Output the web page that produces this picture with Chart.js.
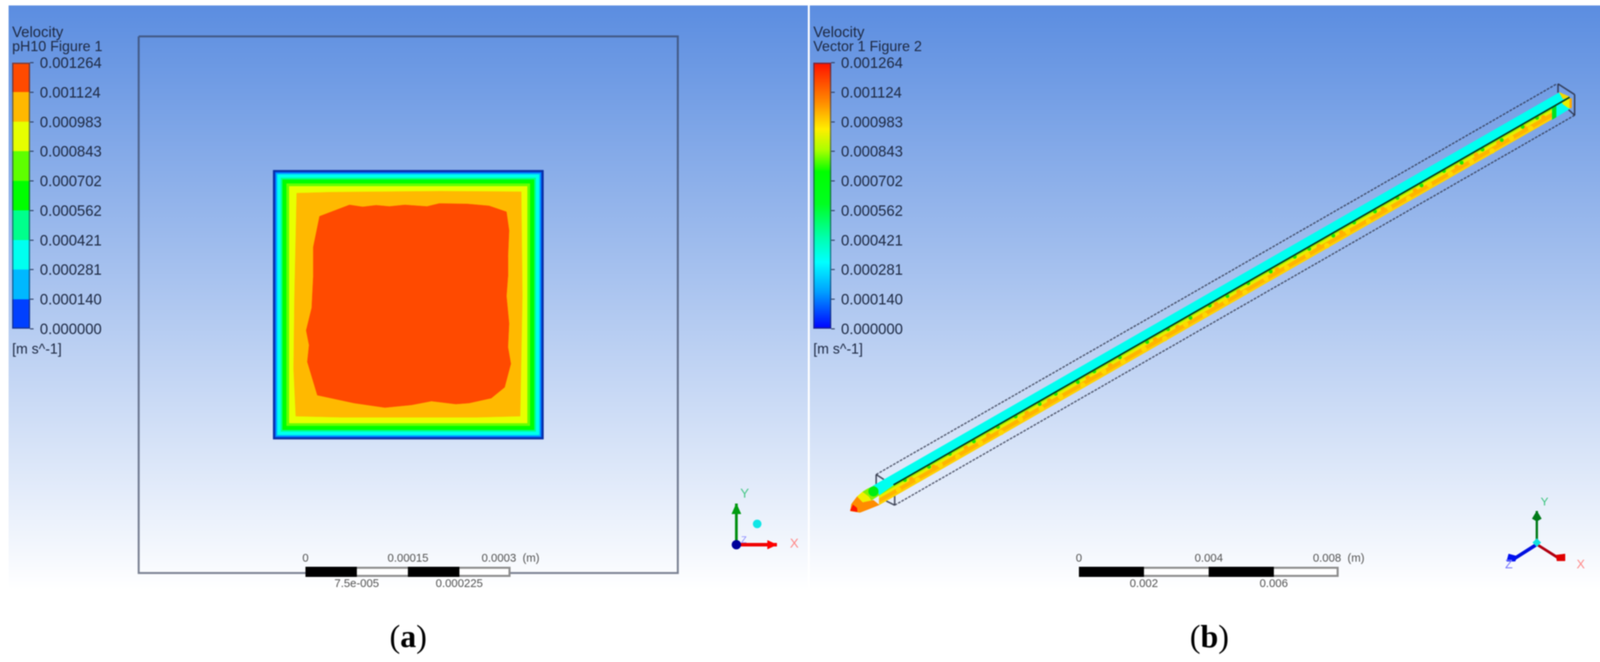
<!DOCTYPE html>
<html>
<head>
<meta charset="utf-8">
<script src="https://cdn.jsdelivr.net/npm/chart.js@4"></script>
<style>
html,body{margin:0;padding:0;background:#fff;overflow:hidden}
#stage{position:absolute;left:0;top:0;width:4135px;height:1696px;background:#fff;filter:blur(1.4px)}
.panel{position:absolute;top:14px;height:1546px;background:linear-gradient(to bottom,#5b8de0 0%,#ffffff 97%)}
canvas{position:absolute;display:block}
.t{position:absolute;white-space:pre;font-family:"Liberation Sans",Arial,sans-serif;line-height:1;transform:translateY(-50%)}
.cap{position:absolute;font-family:"Liberation Serif","Times New Roman",serif;font-size:82px;line-height:1;color:#000;transform:translate(-50%,-50%)}
</style>
</head>
<body>
<div id="stage"></div>
<script>
// ---------- colour legend ----------
const legendValues = [0.000000,0.000140,0.000281,0.000421,0.000562,0.000702,0.000843,0.000983,0.001124,0.001264];
const bandColors = ['#0040ff','#00b8ff','#00fff0','#00ff8c','#00ff00','#5eff00','#e6ff00','#ffb800','#ff4a00'];
const smoothStops = [[0,'#ff1000'],[0.15,'#ff8c00'],[0.25,'#ffee00'],[0.33,'#a8ff00'],[0.41,'#00ff00'],[0.53,'#00ff20'],[0.66,'#00ffb0'],[0.75,'#00ffff'],[0.86,'#00a0ff'],[1,'#0000ff']];
const legendTitleA = 'pH10 Figure 1';
const legendTitleB = 'Vector 1 Figure 2';
// ---------- panel (a): section contours, micrometres from the centre of the channel ----------
const sectionHalfWidths = [200,197,195.5,193.5,188.5,186,180,176];
const sectionColors = ['#0a2fa5','#0060ff','#00b0ff','#00ffee','#00ff90','#00ff00','#66ff00','#e8ff00'];
const frameHalfWidth = 399;
const orangeContour = [[-165,165.8],[-113.2,167.3],[47.5,168.7],[167.2,167.9],[168.8,12.8],[165.6,-165.7],[103.2,-167.4],[-100,-167.4],[-166.4,-165.7],[-169.6,-95.2],[-168.3,12.8]];
const redContour = [[-131.2,131.4],[-87,148.3],[-67.3,145.4],[-47.6,147.8],[-28,146],[-5,148.3],[27.8,146],[45.8,150.4],[86.9,149.8],[119.7,146.9],[145.3,138.1],[149.2,110.4],[147.5,71.1],[147.5,41.9],[145.3,12.8],[149.2,-28],[147.5,-63],[151.8,-87.8],[142.6,-122.8],[122.9,-138.9],[90.1,-146.2],[70.4,-147.7],[34.4,-143.3],[4.9,-149],[-34.5,-152.9],[-80.4,-146.2],[-134.5,-134.5],[-149.3,-84.9],[-146.7,-60.1],[-151,-38.2],[-142.8,-4.7],[-140.5,41.9],[-140.5,85.6]];
const triadA = {origin:[485.7,-356.9],yTip:[485.7,-295.7],xTip:[545.7,-356.9],dot:[516.5,-326],
  yHead:[[485.7,-295.7],[492.5,-311],[478.9,-311]],xHead:[[545.7,-356.9],[532,-350.5],[532,-363.3]]};
// ---------- panel (b): projected rod, millimetres in the view plane ----------
const rodCyan = [[0.697,0.721],[22.09,13.04],[22.416,12.897],[1.346,0.757],[0.901,0.433]];
const rodCyanEnd = [[21.875,12.584],[22.416,12.897],[22.416,12.536],[21.875,12.2]];
const rodGreenStripe = [[21.875,12.584],[21.995,12.656],[21.995,12.272],[21.875,12.2]];
const rodYellowEnd = [[22.175,12.74],[22.416,12.861],[22.476,12.572],[22.38,12.56],[22.212,12.68]];
const rodOrangeEnd = [[22.416,12.861],[22.476,12.86],[22.476,12.572],[22.416,12.55]];
const rodYellowTop = [[22.091,13.053],[22.416,12.909],[22.212,12.837]];
const darkEdge = [[1.346,0.757],[22.416,12.897]];
const faceEdge = [[0.9,0.5],[21.875,12.584]];
const faceStrips = [[0,-0.08,'#90f000'],[-0.08,-0.17,'#e8ee00'],[-0.17,-0.31,'#ffb400'],[-0.31,-0.37,'#ffd000']];
const noseOrange = [[0,-0.06],[0.036,0.156],[0.216,0.397],[0.385,0.216],[0.721,0.276],[0.9,0.13],[0.577,0],[0.3,-0.108]];
const noseYellow = [[0.216,0.397],[0.385,0.541],[0.577,0.397],[0.661,0.276],[0.385,0.216]];
const noseLime = [[0.385,0.541],[0.541,0.637],[0.745,0.721],[0.901,0.433],[0.661,0.276],[0.577,0.397]];
const noseRed = [[0,-0.048],[0.084,0.132],[0.204,0.036],[0.216,-0.084]];
const noseGreen = [[0.721,0.553]];
const greenSpecks = [[1.7,-.05],[2.45,-.07],[3.1,-.04],[3.85,-.08],[4.6,-.06],[5.15,-.05],[5.9,-.09],[6.4,-.06],[7.09,-.09],[7.6,-.05],[8.4,-.07],[9.25,-.08],[9.9,-.05],[10.6,-.1],[11.2,-.06],[11.75,-.08],[12.4,-.05],[13.1,-.09],[13.85,-.06],[14.3,-.07],[15.05,-.09],[15.7,-.05],[16.35,-.08],[17.05,-.06],[17.8,-.1],[18.5,-.05],[19.05,-.11],[19.7,-.07],[20.3,-.12],[20.95,-.08],[21.4,-.06]];
const yellowSpecks = [[1.5,-.24],[2.1,-.28],[2.8,-.22],[3.35,-.27],[4.05,-.24],[4.7,-.29],[5.3,-.22],[5.95,-.26],[6.55,-.23],[7.25,-.28],[7.9,-.22],[8.5,-.26],[9.15,-.24],[9.8,-.29],[10.45,-.22],[11.05,-.27],[11.7,-.23],[12.3,-.28],[12.95,-.22],[13.6,-.26],[14.25,-.24],[14.85,-.29],[15.5,-.22],[16.15,-.27],[16.8,-.23],[17.4,-.28],[18.05,-.22],[18.7,-.26],[19.35,-.24],[20,-.29],[20.6,-.23],[21.2,-.27]];
const orangeSpecks = [[1.9,-.14],[2.6,-.16],[3.6,-.13],[4.3,-.15],[5.5,-.14],[6.2,-.16],[7.4,-.13],[8.1,-.15],[9.5,-.14],[10.2,-.16],[11.4,-.13],[12.1,-.15],[13.3,-.14],[14.6,-.16],[15.3,-.13],[16.6,-.15],[17.6,-.14],[18.9,-.16],[19.5,-.12],[20.2,-.15],[21,-.13],[21.6,-.16]];
const frameLongB = [[[0.805,1.082],[22.019,13.317]],[[1.382,0.12],[22.572,12.332]]];
const frameShortB = [[[0.805,1.082],[0.805,0.757]],[[1.382,0.757],[1.382,0.12]],[[0.805,1.082],[1.046,0.925]],[[1.118,0.252],[1.382,0.12]],[[22.055,13.317],[22.055,13.04]],[[22.055,13.317],[22.572,12.981]],[[22.572,12.981],[22.572,12.332]],[[22.38,12.512],[22.572,12.332]]];
const triadB = {origin:[21.394,-1.106],yTip:[21.394,-0.06],zTip:[20.62,-1.6],xTip:[22.055,-1.526],
  yHead:[[21.394,-0.06],[21.538,-0.30],[21.394,-0.385],[21.25,-0.30]],
  zHead:[[20.457,-1.635],[20.517,-1.406],[20.781,-1.478],[20.72,-1.635]],
  xHead:[[21.995,-1.442],[22.272,-1.406],[22.272,-1.623],[22.02,-1.623]]};
// ---------- scale bars ----------
const scaleEdgesA = [0,0.000075,0.00015,0.000225,0.0003];
const scaleTopA = [0,0.00015,0.0003], scaleTopLabelsA = ['0','0.00015','0.0003  (m)'];
const scaleBotA = [0.000075,0.000225], scaleBotLabelsA = ['7.5e-005','0.000225'];
const scaleEdgesB = [0,0.002,0.004,0.006,0.008];
const scaleTopB = [0,0.004,0.008], scaleTopLabelsB = ['0','0.004','0.008  (m)'];
const scaleBotB = [0.002,0.006], scaleBotLabelsB = ['0.002','0.006'];
const captions = ['a','b'];

// ---------- page helpers ----------
const stage = document.getElementById('stage');
function div(cls,css,txt){const d=document.createElement('div');d.className=cls;d.style.cssText=css;if(txt!==undefined)d.textContent=txt;stage.appendChild(d);return d;}
function text(x,y,s,size,color,extra){div('t',`left:${x}px;top:${y}px;font-size:${size}px;color:${color};${extra||''}`,s);}
function canvas(l,t,w,h){const c=document.createElement('canvas');c.width=w;c.height=h;c.style.cssText=`left:${l}px;top:${t}px;width:${w}px;height:${h}px`;stage.appendChild(c);return c;}
const base={responsive:false,maintainAspectRatio:false,animation:false,devicePixelRatio:1,events:[],plugins:{legend:{display:false},tooltip:{enabled:false},title:{display:false}}};
const pts=a=>a.map(p=>({x:p[0],y:p[1]}));
function poly(a,color){return {data:pts(a.concat([a[0]])),showLine:true,fill:'shape',backgroundColor:color,borderColor:color,borderWidth:1,pointRadius:0,tension:0};}
function line(a,color,width,dash){return {data:pts(a),showLine:true,fill:false,borderColor:color,borderWidth:width,borderDash:dash||[],pointRadius:0,tension:0};}
function dots(a,color,r,style){return {data:pts(a),showLine:false,backgroundColor:color,borderColor:color,borderWidth:0,pointRadius:r,pointStyle:style||'circle'};}
function rect(h){return [[-h,h],[h,h],[h,-h],[-h,-h]];}
function field(l,t,w,h,xr,yr,sets){
  sets.forEach((s,i)=>{s.order=sets.length-i;});
  new Chart(canvas(l,t,w,h),{type:'scatter',data:{datasets:sets},options:{...base,layout:{padding:0},
    scales:{x:{type:'linear',display:false,min:xr[0],max:xr[1]},y:{type:'linear',display:false,min:yr[0],max:yr[1]}}}});
}
function colorbar(left,sets){
  new Chart(canvas(left,120,300,760),{type:'bar',data:{labels:[''],datasets:sets},options:{...base,
    layout:{padding:{left:9,top:40.5,bottom:37.5,right:0}},
    scales:{x:{type:'category',display:false},
      y:{type:'linear',position:'right',min:legendValues[0],max:legendValues[legendValues.length-1],
        afterBuildTicks:s=>{s.ticks=legendValues.map(v=>({value:v}));},
        afterFit:s=>{s.width=245;s.paddingTop=0;s.paddingBottom=0;},
        border:{display:false},
        grid:{drawOnChartArea:false,drawTicks:true,tickLength:9,tickWidth:2.5,tickColor:'#2a3a5c'},
        ticks:{autoSkip:false,padding:16,labelOffset:3,font:{family:'"Liberation Sans"',size:38},color:'#1e2a44',callback:v=>v.toFixed(6)}}}}});
}
function legendBand(lo,hi,color){return {data:[[lo,hi]],backgroundColor:color,grouped:false,barPercentage:1,categoryPercentage:1,borderWidth:0,order:2};}
function legendFrame(){return {data:[[legendValues[0],legendValues[legendValues.length-1]]],backgroundColor:'rgba(0,0,0,0)',borderColor:'rgba(35,50,95,0.65)',borderWidth:3,borderSkipped:false,grouped:false,barPercentage:1,categoryPercentage:1,order:1};}
function scaleBar(left,width,edges,top,topL,bot,botL){
  const pad=70, sets=[];
  for(let i=0;i<edges.length-1;i++) if(i%2) sets.push({data:[[edges[i],edges[i+1]]],backgroundColor:'#fff',grouped:false,barPercentage:1,categoryPercentage:1,order:3});
  sets.push({data:[[edges[0],edges[edges.length-1]]],backgroundColor:'rgba(0,0,0,0)',borderColor:'#8e8e8e',borderWidth:5,borderSkipped:false,grouped:false,barPercentage:1,categoryPercentage:1,order:2});
  for(let i=0;i<edges.length-1;i++) if(!(i%2)) sets.push({data:[[edges[i],edges[i+1]]],backgroundColor:'#000',grouped:false,barPercentage:1,categoryPercentage:1,order:1});
  const font={family:'"Liberation Sans"',size:29};
  const common=(vals,labs,pd)=>({type:'linear',min:edges[0],max:edges[edges.length-1],
    afterBuildTicks:s=>{s.ticks=vals.map(v=>({value:v}));},
    afterFit:s=>{s.height=40;s.paddingLeft=0;s.paddingRight=0;},
    border:{display:false},grid:{display:false,drawTicks:false},
    ticks:{autoSkip:false,maxRotation:0,minRotation:0,padding:pd,font,color:'#555',callback:(v,i)=>labs[i]}});
  new Chart(canvas(left-pad,1412,width+2*pad+60,106),{type:'bar',data:{labels:[''],datasets:sets},options:{...base,indexAxis:'y',
    layout:{padding:{left:pad,right:pad+60,top:0,bottom:0}},
    scales:{y:{type:'category',display:false},
      x:{...common(bot,botL,1),position:'bottom'},
      xTop:{...common(top,topL,4),position:'top',axis:'x'}}}});
}

// ---------- backgrounds ----------
div('panel','left:22px;width:2046px');
div('panel','left:2073px;width:2047px');

// ---------- panel (a) field, 1.75 px per micrometre ----------
const setsA=[line(rect(frameHalfWidth).concat([rect(frameHalfWidth)[0]]),'rgba(45,55,80,0.62)',5)];
sectionHalfWidths.forEach((h,i)=>setsA.push(poly(rect(h),sectionColors[i])));
setsA.push(poly(orangeContour,'#ffb900'),poly(redContour,'#ff4a00'));
setsA.push(line([triadA.origin,triadA.yTip],'#008f10',7),poly(triadA.yHead,'#009c10'));
setsA.push(line([triadA.origin,triadA.xTip],'#f00000',9),poly(triadA.xHead,'#ff0000'));
setsA.push(dots([triadA.origin],'#00009a',12),dots([triadA.dot],'#10e6e6',11));
field(22,14,2046,1546,[-584.6,584.5],[-445.4,438],setsA);

// ---------- panel (b) rod, 83.2 px per millimetre ----------
const faceAt=(s,o)=>{const[a,b]=faceEdge;return [s,a[1]+(s-a[0])*(b[1]-a[1])/(b[0]-a[0])+o];};
const setsB=[];
frameShortB.forEach(f=>setsB.push(line(f,'rgba(40,45,65,0.8)',4)));
frameLongB.forEach(f=>setsB.push(line(f,'rgba(40,45,65,0.72)',3.5,[7,3])));
faceStrips.forEach(s=>{
  const a=faceEdge[0][0],b=faceEdge[1][0];
  setsB.push(poly([faceAt(a,s[0]),faceAt(b,s[0]),faceAt(b,s[1]),faceAt(a,s[1])],s[2]));
});
setsB.push(dots(yellowSpecks.map(p=>faceAt(p[0],p[1])),'#ffd800',7));
setsB.push(dots(orangeSpecks.map(p=>faceAt(p[0],p[1])),'#ffb000',6));
setsB.push(dots(greenSpecks.map(p=>faceAt(p[0],p[1])),'#20e800',5));
setsB.push(poly(rodCyan,'#00fff0'),poly(rodCyanEnd,'#00fff0'),poly(rodGreenStripe,'#00e020'));
setsB.push(poly(rodYellowEnd,'#e8f000'),poly(rodOrangeEnd,'#ffaa00'),poly(rodYellowTop,'#f2d800'));
setsB.push(poly(noseOrange,'#ff8c00'),poly(noseYellow,'#f0f000'),poly(noseLime,'#88f000'),poly(noseRed,'#ff1500'));
setsB.push(dots(noseGreen,'#00ee10',13));
setsB.push(line(darkEdge,'#063d20',4));
setsB.push(line([triadB.origin,triadB.yTip],'#007a18',6),poly(triadB.yHead,'#007a18'));
setsB.push(line([triadB.origin,triadB.zTip],'#0010e0',9),poly(triadB.zHead,'#0010f0'));
setsB.push(line([triadB.origin,triadB.xTip],'#b00010',7),poly(triadB.xHead,'#e00000'));
setsB.push(dots([[21.394,-1.05]],'#10e0e0',11,'rectRot'));
field(2073,14,2047,1546,[-1.106,23.497],[-2.969,15.613],setsB);

// ---------- colour legends ----------
const setsLegendA=bandColors.map((c,i)=>legendBand(legendValues[i],legendValues[i+1],c));
setsLegendA.push(legendFrame());
colorbar(22,setsLegendA);
const gradientBand={...legendBand(legendValues[0],legendValues[legendValues.length-1],'#000'),
  backgroundColor:ctx=>{const a=ctx.chart.chartArea;if(!a)return '#00ff00';
    const g=ctx.chart.ctx.createLinearGradient(0,a.top,0,a.bottom);smoothStops.forEach(s=>g.addColorStop(s[0],s[1]));return g;}};
colorbar(2073,[gradientBand,legendFrame()]);

// ---------- scale bars ----------
scaleBar(782,525,scaleEdgesA,scaleTopA,scaleTopLabelsA,scaleBotA,scaleBotLabelsA);
scaleBar(2762,665,scaleEdgesB,scaleTopB,scaleTopLabelsB,scaleBotB,scaleBotLabelsB);

// ---------- legend titles and triad letters ----------
[[31,legendTitleA],[2082,legendTitleB]].forEach(([x,name])=>{
  text(x,82,'Velocity',38,'#1e2a44');
  text(x,119,name,36.5,'#1e2a44');
  text(x,894,'[m s^-1]',36,'#1e2a44');
});
text(1895,1263,'Y',34,'#4cc88a');
text(2022,1391,'X',34,'#ff8a8a');
text(1897,1383,'Z',24,'#8d8dff');
text(3944,1285,'Y',30,'#3cc47e');
text(4036,1445,'X',32,'#ff8a8a');
text(3853,1445,'Z',32,'#7878ff');

// ---------- captions ----------
const capA=div('cap','left:1045px;top:1631px');
const capB=div('cap','left:3096px;top:1631px');
[capA,capB].forEach((c,i)=>{
  c.appendChild(document.createTextNode('('));
  const b=document.createElement('b');b.textContent=captions[i];c.appendChild(b);
  c.appendChild(document.createTextNode(')'));
});
</script>
</body>
</html>
